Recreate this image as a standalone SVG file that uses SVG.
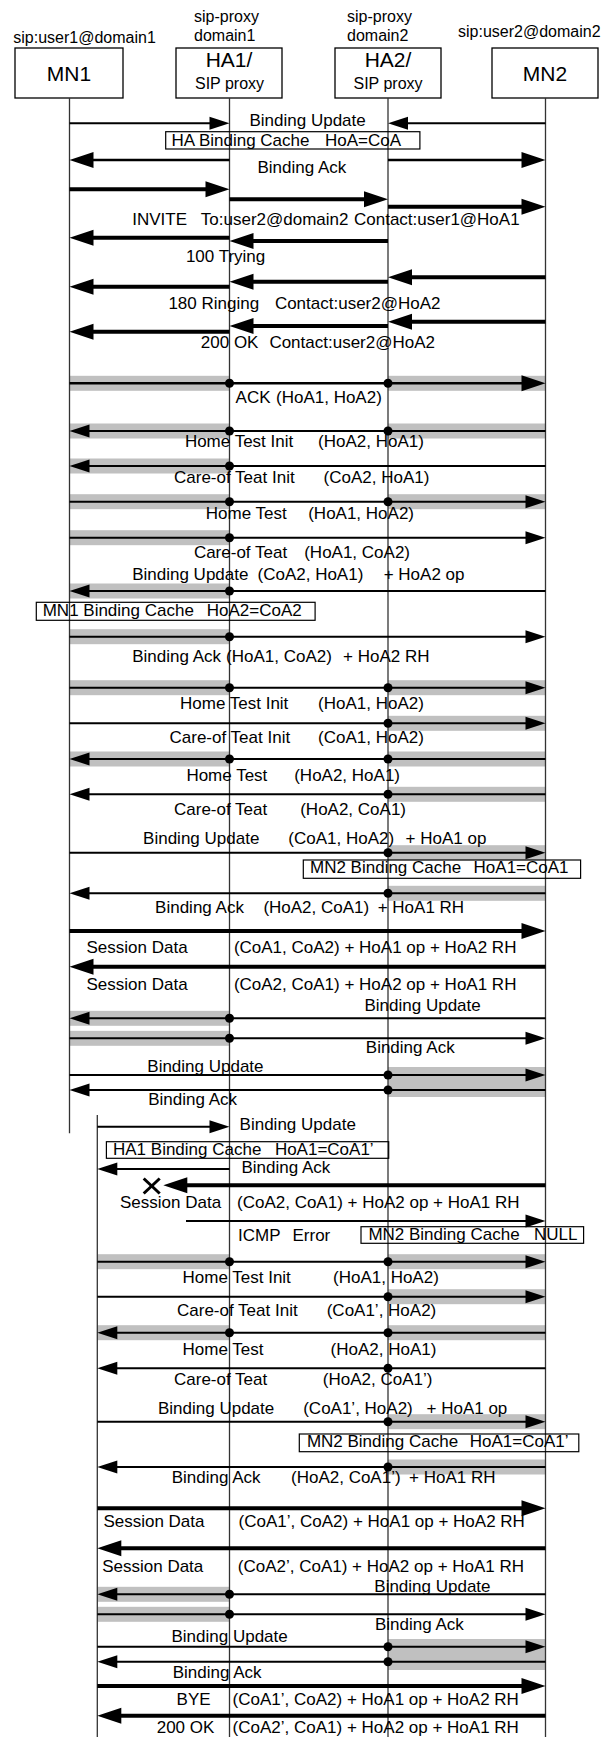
<svg xmlns="http://www.w3.org/2000/svg" width="611" height="1737" viewBox="0 0 611 1737">
<defs>
<marker id="ah" markerUnits="userSpaceOnUse" markerWidth="20" markerHeight="13" refX="12" refY="6.5" orient="auto" overflow="visible"><path d="M0,0 L20,6.5 L0,13 z" fill="#000"/></marker>
<marker id="ahb" markerUnits="userSpaceOnUse" markerWidth="24" markerHeight="16" refX="16" refY="8" orient="auto" overflow="visible"><path d="M0,0 L24,8 L0,16 z" fill="#000"/></marker>
</defs>
<style>
.ll{stroke:#333;stroke-width:1.3;fill:none}
.box{fill:#fff;stroke:#000;stroke-width:1.3}
.note{fill:none;stroke:#000;stroke-width:1.2}
.n{stroke:#000;stroke-width:2;marker-end:url(#ah)}
.m{stroke:#000;stroke-width:2.6;marker-end:url(#ahb)}
.t{stroke:#000;stroke-width:4;marker-end:url(#ahb)}
.g{fill:#c0c0c0}
.dot{fill:#000}
.x{stroke:#000;stroke-width:3}
text{font-family:"Liberation Sans",Arial,sans-serif;font-size:17px;fill:#000}
.hdr{font-size:16px}
.big{font-size:21px;text-anchor:middle}
.sp{font-size:16px;text-anchor:middle}
</style>
<rect width="611" height="1737" fill="#fff"/>

<g id="bands">
<rect class="g" x="69.5" y="375.8" width="160" height="15"/><rect class="g" x="388" y="375.8" width="157.5" height="15"/>
<rect class="g" x="69.5" y="423.5" width="160" height="15"/><rect class="g" x="388" y="423.5" width="157.5" height="15"/>
<rect class="g" x="69.5" y="458.5" width="160" height="15"/>
<rect class="g" x="69.5" y="494.2" width="160" height="15"/><rect class="g" x="388" y="494.2" width="157.5" height="15"/>
<rect class="g" x="69.5" y="530.2" width="160" height="15"/>
<rect class="g" x="69.5" y="583.5" width="160" height="15"/>
<rect class="g" x="69.5" y="629.2" width="160" height="15"/>
<rect class="g" x="69.5" y="680.2" width="160" height="15"/><rect class="g" x="388" y="680.2" width="157.5" height="15"/>
<rect class="g" x="388" y="715.8" width="157.5" height="15"/>
<rect class="g" x="69.5" y="751.5" width="160" height="15"/><rect class="g" x="388" y="751.5" width="157.5" height="15"/>
<rect class="g" x="388" y="786.8" width="157.5" height="15"/>
<rect class="g" x="388" y="845.2" width="157.5" height="15"/>
<rect class="g" x="388" y="885.8" width="157.5" height="15"/>
<rect class="g" x="69.5" y="1010.8" width="160" height="15"/>
<rect class="g" x="69.5" y="1030.8" width="160" height="15"/>
<rect class="g" x="388" y="1067" width="157.5" height="30"/>
<rect class="g" x="97.3" y="1254.2" width="132.2" height="15"/><rect class="g" x="388" y="1254.2" width="157.5" height="15"/>
<rect class="g" x="388" y="1289.2" width="157.5" height="15"/>
<rect class="g" x="97.3" y="1325.2" width="132.2" height="15"/><rect class="g" x="388" y="1325.2" width="157.5" height="15"/>
<rect class="g" x="388" y="1414.2" width="157.5" height="15"/>
<rect class="g" x="388" y="1459.5" width="157.5" height="15"/>
<rect class="g" x="97.3" y="1586.8" width="132.2" height="15"/>
<rect class="g" x="97.3" y="1606.8" width="132.2" height="15"/>
<rect class="g" x="388" y="1639" width="157.5" height="31"/>
</g>

<g id="MN1">
<text class="hdr" x="13.3" y="43.3">sip:user1@domain1</text>
<rect class="box" x="15" y="48" width="108" height="50"/>
<text class="big" x="69" y="81">MN1</text>
<line class="ll" x1="69.5" y1="98" x2="69.5" y2="1133.3"/>
</g>
<g id="MN1-moved">
<line class="ll" x1="97.3" y1="1115" x2="97.3" y2="1737"/>
</g>
<g id="HA1">
<text class="hdr" x="194" y="21.7">sip-proxy</text>
<text class="hdr" x="194" y="40.5">domain1</text>
<rect class="box" x="176" y="48" width="106" height="50"/>
<text class="big" x="229" y="67">HA1/</text>
<text class="sp" x="229.5" y="89">SIP proxy</text>
<line class="ll" x1="229.5" y1="98" x2="229.5" y2="1737"/>
</g>
<g id="HA2">
<text class="hdr" x="347" y="21.7">sip-proxy</text>
<text class="hdr" x="347" y="40.5">domain2</text>
<rect class="box" x="335" y="48" width="106" height="50"/>
<text class="big" x="388" y="67">HA2/</text>
<text class="sp" x="388" y="89">SIP proxy</text>
<line class="ll" x1="388" y1="98" x2="388" y2="1737"/>
</g>
<g id="MN2">
<text class="hdr" x="458" y="37.3">sip:user2@domain2</text>
<rect class="box" x="492" y="48" width="106" height="50"/>
<text class="big" x="545" y="81">MN2</text>
<line class="ll" x1="545.5" y1="98" x2="545.5" y2="1737"/>
</g>

<g id="notes">
<rect class="note" x="165.7" y="131.7" width="254.2" height="17.3"/>
<text x="171.5" y="145.7">HA Binding Cache<tspan x="325">HoA=CoA</tspan></text>
<rect class="note" x="36.3" y="602.3" width="278.8" height="18"/>
<text x="42.7" y="616">MN1 Binding Cache<tspan x="206.8">HoA2=CoA2</tspan></text>
<rect class="note" x="303.3" y="860" width="277.3" height="18.3"/>
<text x="310" y="873.3">MN2 Binding Cache<tspan x="473.6">HoA1=CoA1</tspan></text>
<rect class="note" x="106.4" y="1141.7" width="282.3" height="16.6"/>
<text x="113" y="1155">HA1 Binding Cache<tspan x="274.9">HoA1=CoA1’</tspan></text>
<rect class="note" x="361" y="1226.7" width="222.6" height="16.6"/>
<text x="368.4" y="1240">MN2 Binding Cache<tspan x="534">NULL</tspan></text>
<rect class="note" x="299.3" y="1434" width="279.5" height="17.7"/>
<text x="306.9" y="1446.7">MN2 Binding Cache<tspan x="469.8">HoA1=CoA1’</tspan></text>
</g>

<g id="connectors">
<line class="n" x1="69.5" y1="123.3" x2="221.5" y2="123.3"/>
<line class="n" x1="545.5" y1="123.3" x2="396" y2="123.3"/>
<line class="m" x1="229.5" y1="160" x2="77.5" y2="160"/>
<line class="m" x1="388" y1="160" x2="537.5" y2="160"/>
<line class="t" x1="69.5" y1="189.3" x2="221.5" y2="189.3"/>
<line class="t" x1="229.5" y1="199.3" x2="380" y2="199.3"/>
<line class="t" x1="388" y1="206.7" x2="537.5" y2="206.7"/>
<line class="t" x1="229.5" y1="237.7" x2="77.5" y2="237.7"/>
<line class="t" x1="388" y1="241" x2="237.5" y2="241"/>
<line class="t" x1="545.5" y1="277.3" x2="396" y2="277.3"/>
<line class="t" x1="388" y1="281.7" x2="237.5" y2="281.7"/>
<line class="t" x1="229.5" y1="286.7" x2="77.5" y2="286.7"/>
<line class="t" x1="545.5" y1="321.7" x2="396" y2="321.7"/>
<line class="t" x1="388" y1="326" x2="237.5" y2="326"/>
<line class="t" x1="229.5" y1="331.7" x2="77.5" y2="331.7"/>
<line class="m" x1="69.5" y1="383.3" x2="537.5" y2="383.3"/>
<line class="n" x1="545.5" y1="431" x2="77.5" y2="431"/>
<line class="n" x1="545.5" y1="466" x2="77.5" y2="466"/>
<line class="n" x1="69.5" y1="501.7" x2="537.5" y2="501.7"/>
<line class="n" x1="69.5" y1="537.7" x2="537.5" y2="537.7"/>
<line class="n" x1="545.5" y1="591" x2="77.5" y2="591"/>
<line class="n" x1="69.5" y1="636.7" x2="537.5" y2="636.7"/>
<line class="n" x1="69.5" y1="687.7" x2="537.5" y2="687.7"/>
<line class="n" x1="69.5" y1="723.3" x2="537.5" y2="723.3"/>
<line class="n" x1="545.5" y1="759" x2="77.5" y2="759"/>
<line class="n" x1="545.5" y1="794.3" x2="77.5" y2="794.3"/>
<line class="n" x1="69.5" y1="852.7" x2="537.5" y2="852.7"/>
<line class="n" x1="545.5" y1="893.3" x2="77.5" y2="893.3"/>
<line class="t" x1="69.5" y1="931" x2="537.5" y2="931"/>
<line class="t" x1="545.5" y1="966.7" x2="77.5" y2="966.7"/>
<line class="n" x1="545.5" y1="1018.3" x2="77.5" y2="1018.3"/>
<line class="n" x1="69.5" y1="1038.3" x2="537.5" y2="1038.3"/>
<line class="n" x1="69.5" y1="1075" x2="537.5" y2="1075"/>
<line class="n" x1="545.5" y1="1090" x2="77.5" y2="1090"/>
<line class="n" x1="97.3" y1="1126.7" x2="221.5" y2="1126.7"/>
<line class="n" x1="229.5" y1="1169" x2="105.3" y2="1169"/>
<line class="t" x1="545.5" y1="1185.3" x2="171.3" y2="1185.3"/>
<line class="x" x1="143.7" y1="1178.5" x2="159.7" y2="1193.5"/>
<line class="x" x1="159.7" y1="1178.5" x2="143.7" y2="1193.5"/>
<line class="n" x1="186" y1="1221" x2="537.5" y2="1221"/>
<line class="n" x1="97.3" y1="1261.7" x2="537.5" y2="1261.7"/>
<line class="n" x1="97.3" y1="1296.7" x2="537.5" y2="1296.7"/>
<line class="n" x1="545.5" y1="1332.7" x2="105.3" y2="1332.7"/>
<line class="n" x1="545.5" y1="1368.3" x2="105.3" y2="1368.3"/>
<line class="n" x1="97.3" y1="1421.7" x2="537.5" y2="1421.7"/>
<line class="n" x1="545.5" y1="1467" x2="105.3" y2="1467"/>
<line class="t" x1="97.3" y1="1508.3" x2="537.5" y2="1508.3"/>
<line class="t" x1="545.5" y1="1548.3" x2="105.3" y2="1548.3"/>
<line class="n" x1="545.5" y1="1594.3" x2="105.3" y2="1594.3"/>
<line class="n" x1="97.3" y1="1614.3" x2="537.5" y2="1614.3"/>
<line class="n" x1="97.3" y1="1646.7" x2="537.5" y2="1646.7"/>
<line class="n" x1="545.5" y1="1661.7" x2="105.3" y2="1661.7"/>
<line class="t" x1="97.3" y1="1686" x2="537.5" y2="1686"/>
<line class="t" x1="545.5" y1="1715.7" x2="105.3" y2="1715.7"/>

<circle class="dot" cx="229.5" cy="383.3" r="4.5"/><circle class="dot" cx="388" cy="383.3" r="4.5"/>
<circle class="dot" cx="229.5" cy="431" r="4.5"/><circle class="dot" cx="388" cy="431" r="4.5"/>
<circle class="dot" cx="229.5" cy="466" r="4.5"/>
<circle class="dot" cx="229.5" cy="501.7" r="4.5"/><circle class="dot" cx="388" cy="501.7" r="4.5"/>
<circle class="dot" cx="229.5" cy="537.7" r="4.5"/>
<circle class="dot" cx="229.5" cy="591" r="4.5"/>
<circle class="dot" cx="229.5" cy="636.7" r="4.5"/>
<circle class="dot" cx="229.5" cy="687.7" r="4.5"/><circle class="dot" cx="388" cy="687.7" r="4.5"/>
<circle class="dot" cx="388" cy="723.3" r="4.5"/>
<circle class="dot" cx="229.5" cy="759" r="4.5"/><circle class="dot" cx="388" cy="759" r="4.5"/>
<circle class="dot" cx="388" cy="794.3" r="4.5"/>
<circle class="dot" cx="388" cy="852.7" r="4.5"/>
<circle class="dot" cx="388" cy="893.3" r="4.5"/>
<circle class="dot" cx="229.5" cy="1018.3" r="4.5"/>
<circle class="dot" cx="229.5" cy="1038.3" r="4.5"/>
<circle class="dot" cx="388" cy="1075" r="4.5"/>
<circle class="dot" cx="388" cy="1090" r="4.5"/>
<circle class="dot" cx="229.5" cy="1261.7" r="4.5"/><circle class="dot" cx="388" cy="1261.7" r="4.5"/>
<circle class="dot" cx="388" cy="1296.7" r="4.5"/>
<circle class="dot" cx="229.5" cy="1332.7" r="4.5"/><circle class="dot" cx="388" cy="1332.7" r="4.5"/>
<circle class="dot" cx="388" cy="1368.3" r="4.5"/>
<circle class="dot" cx="388" cy="1421.7" r="4.5"/>
<circle class="dot" cx="388" cy="1467" r="4.5"/>
<circle class="dot" cx="229.5" cy="1594.3" r="4.5"/>
<circle class="dot" cx="229.5" cy="1614.3" r="4.5"/>
<circle class="dot" cx="388" cy="1646.7" r="4.5"/>
<circle class="dot" cx="388" cy="1661.7" r="4.5"/>
</g>

<g id="labels">
<text x="249.5" y="126">Binding Update</text>
<text x="257.5" y="173.3">Binding Ack</text>
<text x="132.2" y="225">INVITE<tspan x="200.8">To:user2@domain2</tspan><tspan x="354">Contact:user1@HoA1</tspan></text>
<text x="185.9" y="261.7">100 Trying</text>
<text x="168.4" y="309">180 Ringing<tspan x="274.9">Contact:user2@HoA2</tspan></text>
<text x="200.8" y="347.7">200 OK<tspan x="269.4">Contact:user2@HoA2</tspan></text>
<text x="235.6" y="403.3">ACK<tspan x="276">(HoA1, HoA2)</tspan></text>
<text x="184.9" y="447.3">Home Test Init<tspan x="318.1">(HoA2, HoA1)</tspan></text>
<text x="174" y="483.3">Care-of Teat Init<tspan x="323.6">(CoA2, HoA1)</tspan></text>
<text x="205.8" y="519.3">Home Test<tspan x="308.2">(HoA1, HoA2)</tspan></text>
<text x="193.9" y="558.3">Care-of Teat<tspan x="304.2">(HoA1, CoA2)</tspan></text>
<text x="132.2" y="580">Binding Update<tspan x="257.5">(CoA2, HoA1)</tspan><tspan x="383.7">+ HoA2 op</tspan></text>
<text x="132.2" y="661.7">Binding Ack<tspan x="226.1">(HoA1, CoA2)</tspan><tspan x="343">+ HoA2 RH</tspan></text>
<text x="180" y="709">Home Test Init<tspan x="318.1">(HoA1, HoA2)</tspan></text>
<text x="169.5" y="743.3">Care-of Teat Init<tspan x="318.1">(CoA1, HoA2)</tspan></text>
<text x="186.4" y="781">Home Test<tspan x="294.2">(HoA2, HoA1)</tspan></text>
<text x="174" y="815">Care-of Teat<tspan x="300.2">(HoA2, CoA1)</tspan></text>
<text x="143.1" y="844.3">Binding Update<tspan x="288.3">(CoA1, HoA2)</tspan><tspan x="405.6">+ HoA1 op</tspan></text>
<text x="155.1" y="913.3">Binding Ack<tspan x="263.4">(HoA2, CoA1)</tspan><tspan x="377.7">+ HoA1 RH</tspan></text>
<text x="86.5" y="953.3">Session Data<tspan x="233.9">(CoA1, CoA2) + HoA1 op + HoA2 RH</tspan></text>
<text x="86.5" y="990">Session Data<tspan x="233.9">(CoA2, CoA1) + HoA2 op + HoA1 RH</tspan></text>
<text x="364.5" y="1010.7">Binding Update</text>
<text x="365.8" y="1053.3">Binding Ack</text>
<text x="147.3" y="1071.7">Binding Update</text>
<text x="148.2" y="1105">Binding Ack</text>
<text x="239.6" y="1130">Binding Update</text>
<text x="241.5" y="1172.5">Binding Ack</text>
<text x="120" y="1207.5">Session Data<tspan x="237">(CoA2, CoA1) + HoA2 op + HoA1 RH</tspan></text>
<text x="238" y="1241">ICMP<tspan x="292.5">Error</tspan></text>
<text x="182.5" y="1283.3">Home Test Init<tspan x="333">(HoA1, HoA2)</tspan></text>
<text x="177" y="1316">Care-of Teat Init<tspan x="326.7">(CoA1’, HoA2)</tspan></text>
<text x="182.5" y="1355">Home Test<tspan x="330.6">(HoA2, HoA1)</tspan></text>
<text x="174" y="1385">Care-of Teat<tspan x="322.8">(HoA2, CoA1’)</tspan></text>
<text x="158" y="1414">Binding Update<tspan x="303.2">(CoA1’, HoA2)</tspan><tspan x="426.5">+ HoA1 op</tspan></text>
<text x="171.7" y="1482.5">Binding Ack<tspan x="291">(HoA2, CoA1’)</tspan><tspan x="409">+ HoA1 RH</tspan></text>
<text x="103.4" y="1526.7">Session Data<tspan x="238.6">(CoA1’, CoA2) + HoA1 op + HoA2 RH</tspan></text>
<text x="102.2" y="1571.7">Session Data<tspan x="237.8">(CoA2’, CoA1) + HoA2 op + HoA1 RH</tspan></text>
<text x="374.3" y="1592.3">Binding Update</text>
<text x="374.9" y="1630">Binding Ack</text>
<text x="171.5" y="1642.3">Binding Update</text>
<text x="172.7" y="1678.3">Binding Ack</text>
<text x="176.6" y="1705">BYE<tspan x="232.6">(CoA1’, CoA2) + HoA1 op + HoA2 RH</tspan></text>
<text x="156.7" y="1733.3">200 OK<tspan x="232.6">(CoA2’, CoA1) + HoA2 op + HoA1 RH</tspan></text>
</g>
</svg>
